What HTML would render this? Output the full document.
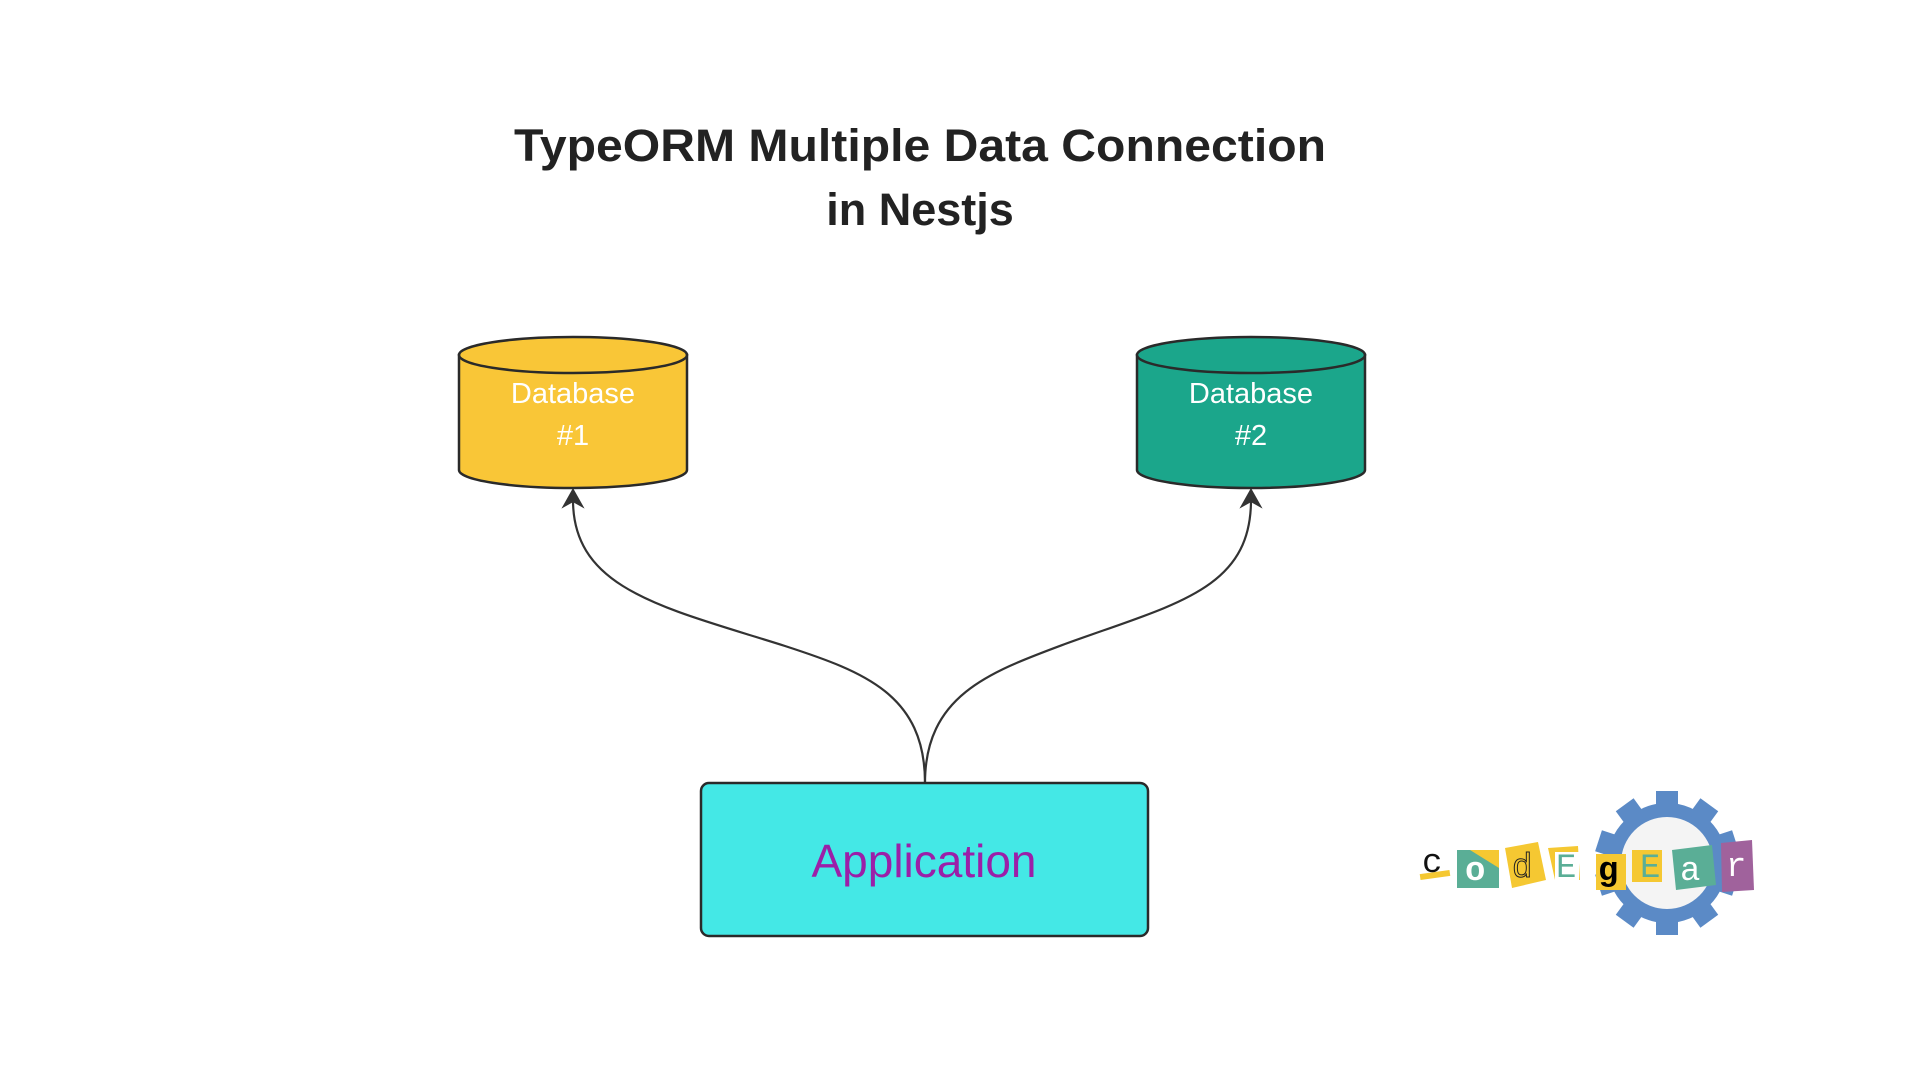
<!DOCTYPE html>
<html><head><meta charset="utf-8"><style>
html,body{margin:0;padding:0;background:#fff;}
svg{display:block}
</style></head><body>
<svg width="1920" height="1080" viewBox="0 0 1920 1080" xmlns="http://www.w3.org/2000/svg">
<rect width="1920" height="1080" fill="#fff"/>
<g font-family="Liberation Sans, sans-serif" font-weight="bold" font-size="45" fill="#222" text-anchor="middle">
<text x="920" y="161" textLength="812" lengthAdjust="spacingAndGlyphs">TypeORM Multiple Data Connection</text>
<text x="920" y="225">in Nestjs</text>
</g>
<g fill="none" stroke="#333" stroke-width="2.2">
<path d="M925 783 C925 695 865 672 785 646 C665 608 573 590 573 500"/>
<path d="M925 783 C925 695 990 672 1065 644 C1175 604 1251 590 1251 500"/>
</g>
<path d="M573 490 L564 506 L573 501 L582 506 Z" fill="#333" stroke="#333" stroke-width="2"/>
<path d="M1251 490 L1242 506 L1251 501 L1260 506 Z" fill="#333" stroke="#333" stroke-width="2"/>
<g stroke="#2a2a2a" stroke-width="2.5">
<path d="M459 355 L459 470 A114 18 0 0 0 687 470 L687 355 Z" fill="#f9c637"/>
<ellipse cx="573" cy="355" rx="114" ry="18" fill="#f9c637"/>
<path d="M1137 355 L1137 470 A114 18 0 0 0 1365 470 L1365 355 Z" fill="#1ba68b"/>
<ellipse cx="1251" cy="355" rx="114" ry="18" fill="#1ba68b"/>
</g>
<g font-family="Liberation Sans, sans-serif" font-size="29" fill="#fff" text-anchor="middle">
<text x="573" y="403">Database</text><text x="573" y="445">#1</text>
<text x="1251" y="403">Database</text><text x="1251" y="445">#2</text>
</g>
<rect x="701" y="783" width="447" height="153" rx="8" fill="#44e8e6" stroke="#2a2a2a" stroke-width="2.5"/>
<text x="924" y="877" font-family="Liberation Sans, sans-serif" font-size="46" fill="#9b1fa8" text-anchor="middle">Application</text>
<g transform="translate(1667,863)">
<g fill="#5b8ac6">
<circle r="60"/>
<g id="t"><rect x="-11" y="-72" width="22" height="20"/></g>
<use href="#t" transform="rotate(36)"/><use href="#t" transform="rotate(72)"/><use href="#t" transform="rotate(108)"/><use href="#t" transform="rotate(144)"/><use href="#t" transform="rotate(180)"/><use href="#t" transform="rotate(216)"/><use href="#t" transform="rotate(252)"/><use href="#t" transform="rotate(288)"/><use href="#t" transform="rotate(324)"/>
</g>
<circle r="46" fill="#f4f4f4"/>
</g>
<g font-family="Liberation Mono, monospace" font-size="34">
<rect x="1420" y="872" width="30" height="6" fill="#f5c832" transform="rotate(-8 1435 875)"/>
<text x="1422" y="872" fill="#111">c</text>
<rect x="1457" y="850" width="42" height="38" fill="#5aae96"/>
<path d="M1470 850 L1499 850 L1499 868 Z" fill="#f5c832"/>
<text x="1465" y="880" fill="#fff" font-weight="bold">o</text>
<path d="M1505 848 L1538 842 L1546 880 L1512 888 Z" fill="#f5c832"/>
<text x="1512" y="877" fill="#f5c832" stroke="#222" stroke-width="1">d</text>
<path d="M1548 848 L1578 846 L1580 880 L1555 880 Z" fill="#f5c832"/>
<rect x="1555" y="852" width="24" height="30" fill="#fff"/>
<text x="1556" y="877" fill="#5aae96">E</text>
<rect x="1596" y="854" width="30" height="36" fill="#f5c832"/>
<text x="1598" y="880" fill="#000" font-weight="bold">g</text>
<rect x="1632" y="850" width="30" height="32" fill="#f5c832"/>
<text x="1640" y="877" fill="#5aae96">E</text>
<path d="M1672 850 L1712 845 L1716 885 L1676 890 Z" fill="#5aae96"/>
<text x="1680" y="880" fill="#fff">a</text>
<path d="M1721 843 L1752 840 L1754 890 L1722 892 Z" fill="#a0629c"/>
<text x="1726" y="876" fill="#fff">r</text>
</g>
</svg>
</body></html>
